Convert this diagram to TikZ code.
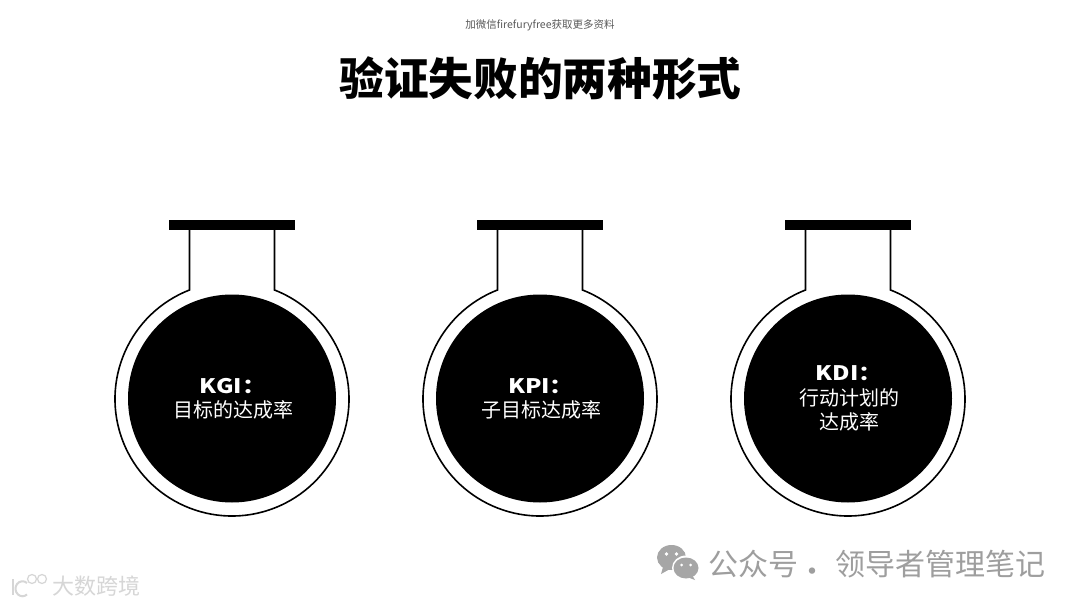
\documentclass[tikz,border=0pt]{standalone}
\usepackage{fontspec}
\setmainfont{Noto Sans CJK SC}
\newfontfamily\cjkblack{Noto Sans CJK SC Black}
\newfontfamily\latbold[FakeStretch=1.2]{Noto Sans CJK SC Black}
\tikzset{
  flasktext/.style={text=white,align=center,font=\fontsize{20}{24.5}\selectfont,inner sep=0pt},
  flaskline/.style={draw=black,line width=1.6pt,fill=white,line join=miter},
  flaskcap/.style={fill=black,draw=none},
  flaskbody/.style={fill=black,draw=none},
  wm/.style={inner sep=0pt,anchor=west},
  wxtext/.style={inner sep=0pt,anchor=west,text=black!38,font=\fontsize{30}{32}\selectfont}
}
\newcommand{\flask}[2]{%
  \begin{scope}[shift={(#1,0)}]
    \coordinate (#2c) at (0,-398.5);
    \draw[flaskline] (-42.5,-225) -- (-42.5,-290) arc[start angle=111.3,end angle=428.7,radius=117] -- (42.5,-225);
    \fill[flaskcap] (-63,-220) rectangle (63,-230.5);
    \node[flaskbody,circle,minimum size=208pt,inner sep=0pt] (#2b) at (#2c) {};
  \end{scope}}
\begin{document}
\begin{tikzpicture}[x=1pt,y=1pt]
\useasboundingbox (0,0) rectangle (1080,-607);
\fill[white] (0,0) rectangle (1080,-607);
\node[inner sep=0pt,text=black!65] (src) at (540,-25) {\fontsize{10.5}{12}\selectfont 加微信firefuryfree获取更多资料};
\node[inner sep=0pt] (title) at (540.5,-78.5) {\cjkblack\fontsize{44.7}{50}\selectfont 验证失败的两种形式};
\flask{232}{a}
\flask{540}{b}
\flask{848}{c}
\node[flasktext] (ta) at (233,-398.8) {{\latbold KGI：}\\目标的达成率};
\node[flasktext] (tb) at (541,-398.8) {{\latbold KPI：}\\子目标达成率};
\node[flasktext] (tc) at (849,-398.5) {{\latbold KDI：}\\行动计划的\\达成率};
% WeChat-style watermark
\fill[black!35] (671.5,-557.5) ellipse[x radius=14.5,y radius=12.5];
\fill[black!35] (663,-567) -- (661,-574) -- (670,-569) -- cycle;
\fill[white] (686,-568) ellipse[x radius=14,y radius=12.5];
\fill[black!35] (686,-568) ellipse[x radius=12.5,y radius=10.5];
\fill[black!35] (692,-575) -- (695,-580) -- (687,-577) -- cycle;
\fill[white] (666.5,-554) circle (1.9) (676.5,-554) circle (1.9) (681.5,-565) circle (1.5) (690.5,-565) circle (1.5);
\node[wxtext] (wx1) at (708,-564) {公众号};
\node[wxtext,anchor=center] (wx2) at (812,-575) {·};
\node[wxtext] (wx3) at (835,-564) {领导者管理笔记};
% bottom-left watermark
\node[wm,text=black!16] (dsj) at (52,-586) {\fontsize{22}{24}\selectfont 大数跨境};
\draw[black!16,line width=2pt] (12.5,-579) -- (12.5,-595);
\draw[black!16,line width=2pt] (27,-583) arc[start angle=50,end angle=310,x radius=7,y radius=7.5];
\draw[black!16,line width=1.2pt] (32,-579) circle (4.5) (42,-579) circle (4.5);
\end{tikzpicture}
\end{document}
